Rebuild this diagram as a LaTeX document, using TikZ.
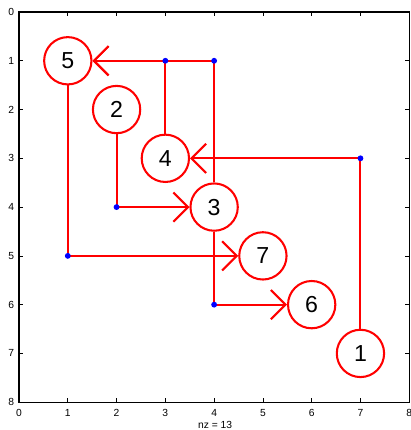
\documentclass[tikz,border=0pt]{standalone}
\usepackage{fontspec}
\setmainfont{Liberation Sans}
\usetikzlibrary{arrows.meta,calc}
\usepackage{tkz-euclide}

\tikzset{
  elim/.style={circle,draw=red,line width=1.2pt,minimum size=0.97cm,inner sep=0pt,font=\fontsize{13.5}{15}\selectfont},
  link/.style={red,line width=1.2pt},
  tolink/.style={link,-{Straight Barb[length=0.3cm,width=0.6cm,line width=1.2pt]}},
  ticklab/.style={font=\fontsize{6}{7}\selectfont,inner sep=1pt}
}

\begin{document}
\begin{tikzpicture}[y=-1cm]
\useasboundingbox (-0.39,-0.246) rectangle (8.02,8.57);

% Axes box and ticks.
\draw[line width=0.8pt] (0,0) rectangle (8,8);
\foreach \i in {1,...,7}{
  \draw[line width=0.4pt] (\i,8) -- (\i,7.92);
  \draw[line width=0.4pt] (\i,0) -- (\i,0.08);
  \draw[line width=0.4pt] (0,\i) -- (0.08,\i);
  \draw[line width=0.4pt] (8,\i) -- (7.92,\i);
}
\foreach \i in {0,...,8}{
  \node[ticklab,anchor=north] (xl\i) at (\i,8.1) {\i};
  \node[ticklab,anchor=east] (yl\i) at (-0.06,\i) {\i};
}
\node[ticklab] (nz) at (4.02,8.47) {nz = 13};

% The diagonal entries.
\node[elim] (n1) at (7,7) {1};
\node[elim] (n2) at (2,2) {2};
\node[elim] (n3) at (4,4) {3};
\node[elim] (n4) at (3,3) {4};
\node[elim] (n5) at (1,1) {5};
\node[elim] (n6) at (6,6) {6};
\node[elim] (n7) at (5,5) {7};

% The off-diagonal entries.
\tkzDefPoints{3/1/A,4/1/B,7/3/C,2/4/D,1/5/E,4/6/F}

\draw[link] (n1) -- (C);
\draw[tolink] (C) -- (n4);
\draw[link] (n4) -- (A);
\draw[tolink] (A) -- (n5);
\draw[link] (n3) -- (B);
\draw[tolink] (B) -- (n5);
\draw[link] (n2) -- (D);
\draw[tolink] (D) -- (n3);
\draw[link] (n5) -- (E);
\draw[tolink] (E) -- (n7);
\draw[link] (n3) -- (F);
\draw[tolink] (F) -- (n6);

\foreach \p in {A,B,C,D,E,F}
  \fill[blue] (\p) circle (0.06);

\end{tikzpicture}
\end{document}
